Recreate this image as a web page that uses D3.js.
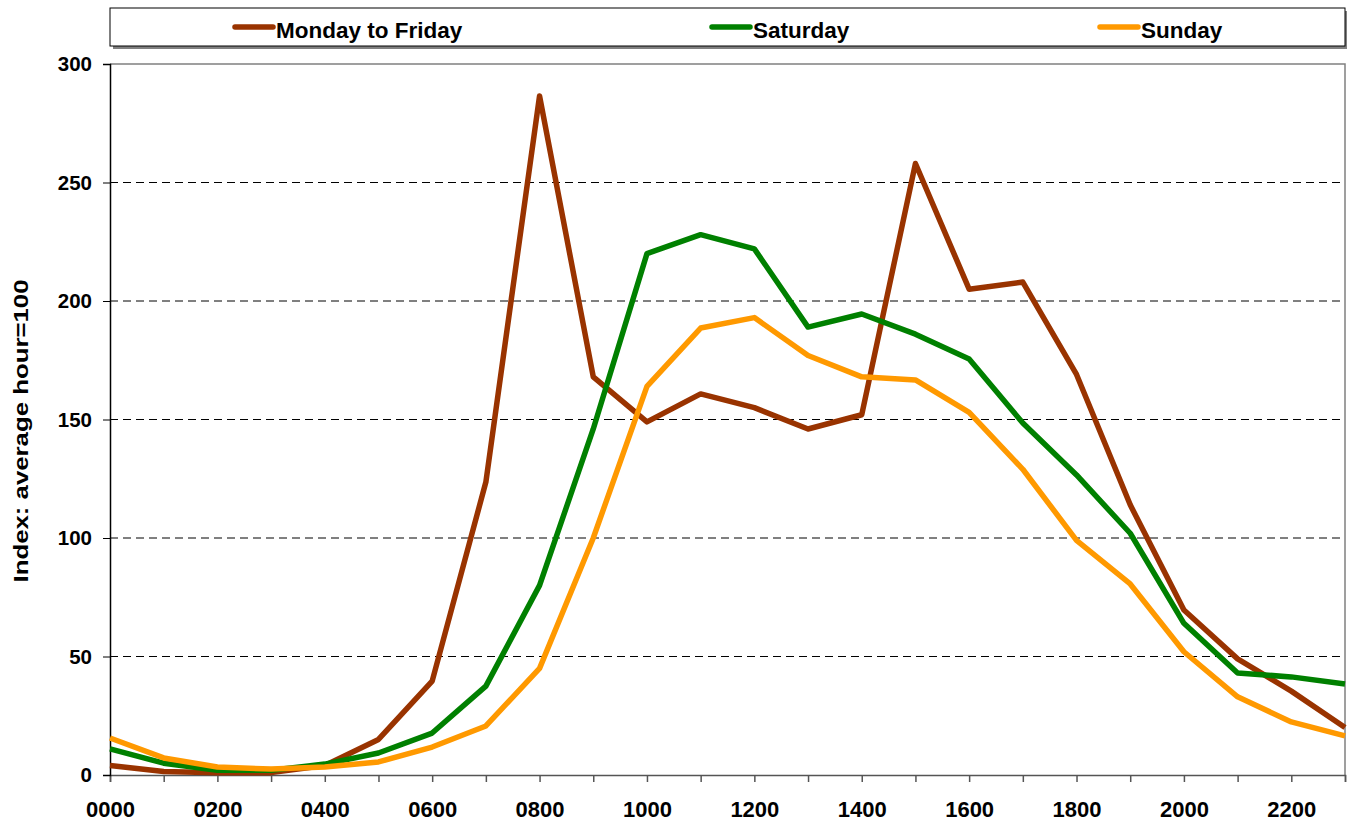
<!DOCTYPE html>
<html>
<head>
<meta charset="utf-8">
<script src="https://cdn.jsdelivr.net/npm/d3@7"></script>
<style>
  body { margin: 0; background: #fff; }
  svg { display: block; font-family: 'Liberation Sans', Arial, sans-serif; }
</style>
</head>
<body>
<svg width="1347" height="821"></svg>
<script>
const width = 1347
const height = 821
const margin = { top: 64, right: 2, bottom: 46, left: 110 }

const hours = d3.range(0, 24)
const hourLabels = hours.map(h => d3.format('02d')(h) + '00')

const weekday = [4, 1.5, 1, 1, 4, 15, 39.6, 123.6, 286.5, 168, 149, 160.8, 155, 146, 152, 258, 205, 208, 169, 114, 69.6, 49, 35.4, 20]
const saturday = [11, 5, 2, 2, 4.6, 9.3, 17.7, 37.5, 80, 146, 220, 228, 222, 189, 194.5, 186, 175.5, 148.5, 126.6, 102, 64, 43, 41.4, 38.4]
const sunday = [15.6, 7.2, 3.4, 2.5, 3.4, 5.5, 11.8, 20.7, 45, 100, 164, 188.6, 193, 177, 168, 166.7, 153, 129, 99, 80.6, 52, 33, 22.4, 16.5]

const seriesNames = ['Monday to Friday', 'Saturday', 'Sunday']
const colors = ['#993300', '#008000', '#ff9900']
const yTicks = [0, 50, 100, 150, 200, 250, 300]

const series = [weekday, saturday, sunday]

const svg = d3.select('svg')

// scales
const xScale = d3.scaleLinear()
  .domain([0, 23])
  .range([margin.left, width - margin.right])

const yScale = d3.scaleLinear()
  .domain([0, 300])
  .range([height - margin.bottom, margin.top])

// grid lines
svg.append('g')
  .selectAll('line')
  .data(yTicks.filter(d => d > 0 && d < 300))
  .enter().append('line')
  .attr('x1', margin.left)
  .attr('x2', width - margin.right)
  .attr('y1', d => yScale(d))
  .attr('y2', d => yScale(d))
  .attr('stroke', '#000')
  .attr('stroke-width', 1)
  .attr('stroke-dasharray', '8,5')

// top and right frame
svg.append('path')
  .attr('d', `M${margin.left},${yScale(300)}H${width - margin.right}V${yScale(0)}`)
  .attr('fill', 'none')
  .attr('stroke', '#808080')
  .attr('stroke-width', 1.5)

// axes
const xAxis = d3.axisBottom(xScale)
  .tickValues(hours)
  .tickSize(7)
  .tickFormat(d => d % 2 === 0 && d < 23 ? hourLabels[d] : '')

const yAxis = d3.axisLeft(yScale)
  .tickValues(yTicks)
  .tickSize(7)

const gx = svg.append('g')
  .attr('transform', `translate(0, ${yScale(0)})`)
  .call(xAxis)
gx.select('.domain').attr('stroke', '#555').attr('stroke-width', 1.5)
gx.selectAll('.tick line').attr('stroke', '#555').attr('stroke-width', 1.5)
gx.selectAll('text')
  .attr('dy', 0)
  .attr('y', 42)
  .attr('fill', '#000')
  .style('font-size', '22px')
  .style('font-weight', 'bold')

const gy = svg.append('g')
  .attr('transform', `translate(${margin.left}, 0)`)
  .call(yAxis)
gy.select('.domain').attr('stroke', '#000').attr('stroke-width', 1.5)
gy.selectAll('.tick line').attr('stroke', '#000').attr('stroke-width', 1)
gy.selectAll('text')
  .attr('x', -18)
  .attr('fill', '#000')
  .style('font-size', '20.5px')
  .style('font-weight', 'bold')

// y axis title
svg.append('text')
  .attr('transform', `translate(28, 431) rotate(-90)`)
  .style('text-anchor', 'middle')
  .style('font-size', '21px')
  .style('font-weight', 'bold')
  .attr('textLength', 303)
  .attr('lengthAdjust', 'spacingAndGlyphs')
  .text('Index: average hour=100')

// lines
const line = d3.line()
  .x((d, i) => xScale(hours[i]))
  .y(d => yScale(d))

svg.append('g')
  .selectAll('path')
  .data(series)
  .enter().append('path')
  .attr('d', line)
  .attr('fill', 'none')
  .attr('stroke', (d, i) => colors[i])
  .attr('stroke-width', 5.5)
  .attr('stroke-linejoin', 'round')

// legend
svg.append('rect')
  .attr('x', 113)
  .attr('y', 11)
  .attr('width', 1235)
  .attr('height', 38)
  .attr('fill', '#808080')
const legend = svg.append('g')
legend.append('rect')
  .attr('x', 110)
  .attr('y', 8)
  .attr('width', 1235)
  .attr('height', 38)
  .attr('fill', '#fff')
  .attr('stroke', '#000')
  .attr('stroke-width', 1)

const legendX = [235, 712, 1100]
const items = legend.selectAll('.item')
  .data(seriesNames)
  .enter().append('g')
  .attr('class', 'item')
  .attr('transform', (d, i) => `translate(${legendX[i]}, 27)`)
items.append('line')
  .attr('x1', 0)
  .attr('x2', 38)
  .attr('stroke', (d, i) => colors[i])
  .attr('stroke-width', 5.5)
  .attr('stroke-linecap', 'round')
items.append('text')
  .attr('x', 41)
  .attr('y', 11)
  .style('font-size', '22.5px')
  .style('font-weight', 'bold')
  .text(d => d)
</script>
</body>
</html>
